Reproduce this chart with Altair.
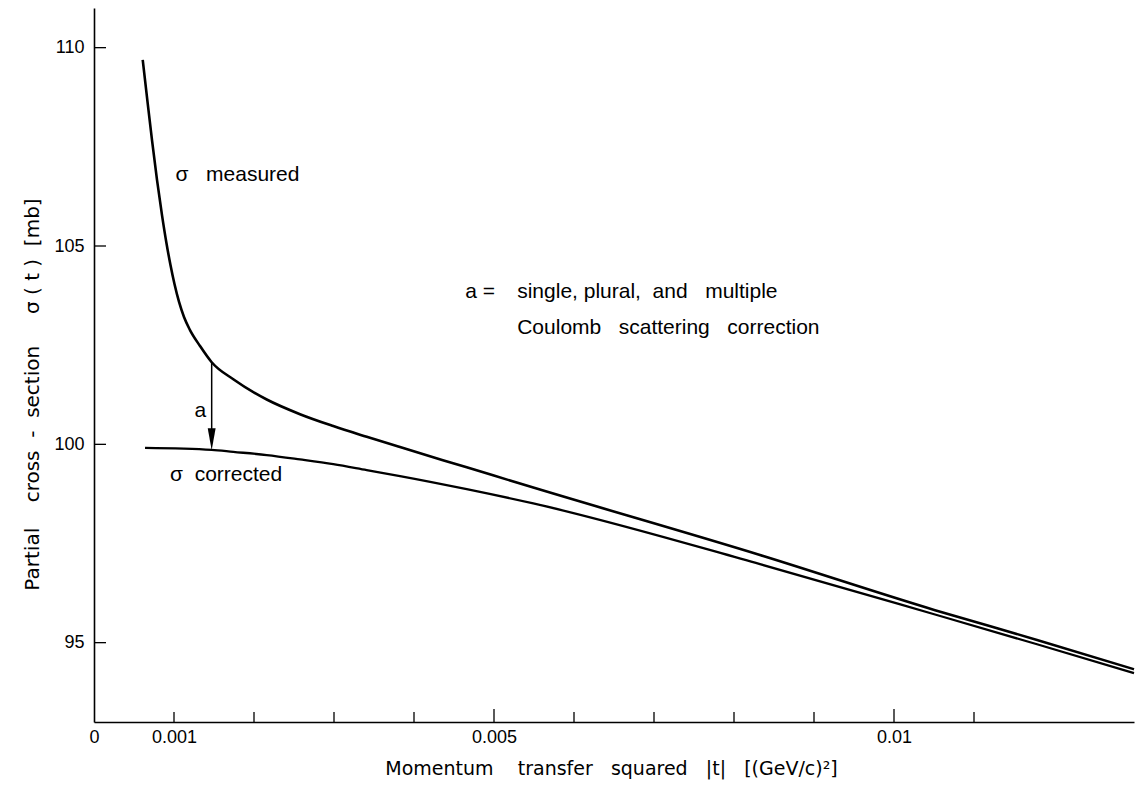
import altair as alt
import pandas as pd

# ---- data ----
t_measured = [0.000609, 0.000659, 0.000725, 0.000788, 0.000850, 0.000906, 0.000956, 0.001006,
              0.001063, 0.001125, 0.001200, 0.001325, 0.001471, 0.001741, 0.002159, 0.002575,
              0.002991, 0.003409, 0.003825, 0.004659, 0.005491, 0.008325, 0.010513, 0.011788,
              0.013000]
sigma_measured = [109.69, 108.81, 107.67, 106.66, 105.78, 105.07, 104.52, 104.04,
                  103.59, 103.21, 102.88, 102.48, 102.07, 101.64, 101.13, 100.76,
                  100.46, 100.19, 99.93, 99.42, 98.91, 97.21, 95.82, 95.07,
                  94.33]

t_corrected = [0.000638, 0.001471, 0.001741, 0.002159, 0.002575, 0.002991, 0.003409, 0.003825,
               0.004659, 0.005491, 0.008325, 0.010513, 0.011788, 0.013000]
sigma_corrected = [99.91, 99.86, 99.81, 99.73, 99.62, 99.50, 99.35, 99.20,
                   98.87, 98.51, 96.98, 95.71, 94.96, 94.23]

x_label_values = [0, 0.001, 0.005, 0.01]
x_minor_ticks = [0.001, 0.002, 0.003, 0.004, 0.006, 0.007, 0.008, 0.009, 0.011]
x_major_ticks = [0.005, 0.01]
y_ticks = [95, 100, 105, 110]

arrow_t = [0.001471]
arrow_top = [102.07]
arrow_head = [100.13]

NB = "\u00a0"
notes_text = ["\u03c3" + NB * 3 + "measured", "\u03c3" + NB * 2 + "corrected", "a",
              "a =", "single," + NB + "plural," + NB * 2 + "and" + NB * 3 + "multiple",
              "Coulomb" + NB * 3 + "scattering" + NB * 3 + "correction"]
notes_t = [0.00102, 0.00095, 0.00133, 0.00464, 0.00529, 0.00529]
notes_sigma = [106.79, 99.22, 100.83, 103.85, 103.85, 102.93]
notes_align = ["left", "left", "center", "left", "left", "left"]

x_title = ("Momentum" + NB * 4 + "transfer" + NB * 3 + "squared" + NB * 3 + "|t|" + NB * 3
           + "[(GeV/c)\u00b2]")
y_title = ("Partial" + NB * 4 + "cross" + NB * 2 + "-" + NB * 2 + "section" + NB * 5
           + "\u03c3" + NB + "(" + NB + "t" + NB + ")" + NB * 2 + "[mb]")

FONT = "Liberation Sans"
TITLE_FONT = "DejaVu Sans"

df_m = pd.DataFrame({"t": t_measured, "sigma": sigma_measured})
df_c = pd.DataFrame({"t": t_corrected, "sigma": sigma_corrected})
df_arrow = pd.DataFrame({"t": arrow_t, "top": arrow_top, "head": arrow_head})
df_notes = pd.DataFrame({"t": notes_t, "sigma": notes_sigma, "text": notes_text,
                         "align": notes_align})

xscale = alt.Scale(domain=[0, 0.013], nice=False, zero=False)
yscale = alt.Scale(domain=[93, 111], nice=False, zero=False)

xaxis = alt.Axis(values=x_label_values, ticks=False, tickSize=0, grid=False,
                 labelExpr="datum.value == 0 ? '0' : datum.value == 0.01 ? '0.01' : format(datum.value, '.3f')",
                 labelFont=FONT, labelFontSize=18, labelPadding=6, labelColor="black",
                 domainColor="black", domainWidth=1.6,
                 title=x_title, titleFont=TITLE_FONT, titleFontSize=19, titleFontWeight="normal",
                 titleColor="black", titleX=517, titleY=46, titleAlign="center",
                 titleBaseline="middle", labelFlush=False, labelOverlap=False)
yaxis = alt.Axis(values=y_ticks, ticks=False, tickSize=0, grid=False,
                 labelFont=FONT, labelFontSize=18, labelPadding=10, labelColor="black",
                 domainColor="black", domainWidth=1.6,
                 title=y_title, titleFont=TITLE_FONT, titleFontSize=20, titleFontWeight="normal",
                 titleColor="black", titleX=-62, titleY=386, titleAngle=270,
                 titleAlign="center", titleBaseline="middle")

base_x = alt.X("t:Q", scale=xscale, axis=xaxis)
base_y = alt.Y("sigma:Q", scale=yscale, axis=yaxis)

measured = alt.Chart(df_m).mark_line(color="black", strokeWidth=2.6,
                                     interpolate="monotone").encode(x=base_x, y=base_y)
corrected = alt.Chart(df_c).mark_line(color="black", strokeWidth=2.3,
                                      interpolate="monotone").encode(x="t:Q", y="sigma:Q")

arrow_line = alt.Chart(df_arrow).mark_rule(color="black", strokeWidth=1.5).encode(
    x="t:Q", y="top:Q", y2="head:Q")
arrow_tip = alt.Chart(df_arrow).mark_point(
    shape="M-0.36,-1L0.36,-1L0,1Z", filled=True, color="black", opacity=1, size=484,
    strokeWidth=0).encode(x="t:Q", y="head:Q")

notes_left = alt.Chart(df_notes[df_notes["align"] == "left"]).mark_text(
    font=FONT, fontSize=21, color="black", baseline="middle", align="left").encode(
    x="t:Q", y="sigma:Q", text="text:N")
notes_center = alt.Chart(df_notes[df_notes["align"] == "center"]).mark_text(
    font=FONT, fontSize=21, color="black", baseline="middle", align="center").encode(
    x="t:Q", y="sigma:Q", text="text:N")

df_xmin = pd.DataFrame({"t": x_minor_ticks})
df_xmaj = pd.DataFrame({"t": x_major_ticks})
df_y = pd.DataFrame({"sigma": y_ticks})

xtick_minor = alt.Chart(df_xmin).mark_rule(color="black", strokeWidth=1.3).encode(
    x="t:Q", y=alt.value(714), y2=alt.value(704))
xtick_major = alt.Chart(df_xmaj).mark_rule(color="black", strokeWidth=1.3).encode(
    x="t:Q", y=alt.value(714), y2=alt.value(701))
ytick = alt.Chart(df_y).mark_rule(color="black", strokeWidth=1.3).encode(
    y="sigma:Q", x=alt.value(0), x2=alt.value(12))

chart = alt.layer(measured, corrected, arrow_line, arrow_tip, notes_left, notes_center,
                  xtick_minor, xtick_major, ytick).properties(
    width=1040, height=714,
    padding={"left": 94, "top": 8, "right": 1, "bottom": 65},
    autosize=alt.AutoSizeParams(type="none"),
    background="white",
).configure_view(stroke=None)

chart.save("out.html", embed_options={"renderer": "svg", "actions": False})
